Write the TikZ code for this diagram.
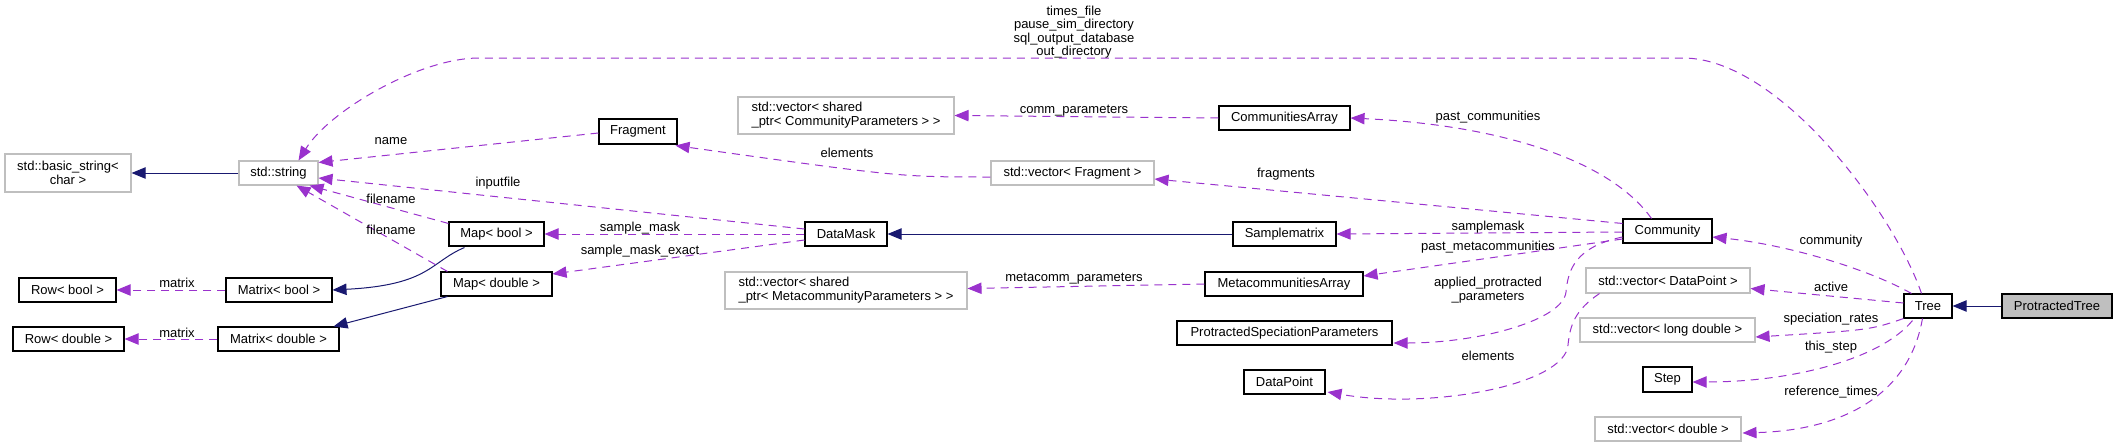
\documentclass[tikz,border=0pt]{standalone}
\usepackage{fontspec}
\setmainfont{Liberation Sans}
\usetikzlibrary{arrows.meta,calc}
\definecolor{usecol}{HTML}{9A32CD}
\definecolor{inhcol}{HTML}{191970}
\definecolor{extcol}{HTML}{BFBFBF}
\newcommand\lblfont{\fontsize{9.75}{10.3}\selectfont}
\newcommand\bx[6]{\node[#1, minimum width=#4*0.75pt, minimum height=#5*0.75pt] (#2) at (#3) {#6};}
\begin{document}
\begin{tikzpicture}[x=0.75pt,y=-0.75pt,
  cls/.style={draw=black, line width=0.8pt, fill=white, inner sep=0pt, font=\lblfont},
  extcls/.style={draw=extcol, line width=0.8pt, fill=white, inner sep=0pt, font=\lblfont},
  usage/.style={draw=usecol, line width=0.75pt, dash pattern=on 6pt off 4.5pt, -{Triangle[length=10.5pt,width=8.5pt]}},
  inh/.style={draw=inhcol, line width=0.75pt, -{Triangle[length=10.5pt,width=8.5pt]}},
  lab/.style={font=\lblfont, inner sep=0pt, align=center}]
\useasboundingbox (0,0) rectangle (2117,447);

% nodes
\bx{extcls,align=center}{bstr}{68,173}{126}{38}{std::basic\_string<\\char >}
\bx{extcls}{str}{278.5,173}{79}{24}{std::string}
\bx{cls}{rowb}{67.5,290}{97}{24}{Row< bool >}
\bx{cls}{matb}{279,290}{106}{24}{Matrix< bool >}
\bx{cls}{rowd}{68.5,339}{111}{24}{Row< double >}
\bx{cls}{matd}{278.5,339}{121}{24}{Matrix< double >}
\bx{cls}{frag}{638,131.5}{78}{25}{Fragment}
\bx{cls}{mapb}{496.5,234}{95}{24}{Map< bool >}
\bx{cls}{mapd}{496.5,284}{111}{24}{Map< double >}
\bx{cls}{dmask}{846,234}{82}{24}{DataMask}
\bx{extcls,align=left}{vcp}{846,115.5}{216}{37}{std::vector< shared\\\_ptr< CommunityParameters > >}
\bx{cls}{carr}{1284.5,118}{131}{24}{CommunitiesArray}
\bx{extcls}{vfrag}{1072.5,173}{163}{24}{std::vector< Fragment >}
\bx{cls}{smat}{1284.5,234}{103}{24}{Samplematrix}
\bx{extcls,align=left}{vmp}{846,290.5}{242}{37}{std::vector< shared\\\_ptr< MetacommunityParameters > >}
\bx{cls}{marr}{1284,284}{158}{24}{MetacommunitiesArray}
\bx{cls}{psp}{1284.5,333}{215}{24}{ProtractedSpeciationParameters}
\bx{cls}{dpt}{1284.5,382}{81}{24}{DataPoint}
\bx{cls}{comm}{1667.5,231}{89}{24}{Community}
\bx{extcls}{vdp}{1668,280.5}{164}{25}{std::vector< DataPoint >}
\bx{extcls}{vld}{1667.5,330}{175}{24}{std::vector< long double >}
\bx{cls}{stp}{1667.5,379.5}{49}{25}{Step}
\bx{extcls}{vd}{1668,429}{146}{24}{std::vector< double >}
\bx{cls}{tree}{1928,306}{48}{24}{Tree}
\bx{cls,fill=extcol}{ptree}{2057,306}{110}{24}{ProtractedTree}

% inheritance
\draw[inh] (str.west) -- (bstr.east);
\draw[inh] ($(mapb.south west)+(16,1)$) .. controls (430,262) and (430,285) .. (matb.east);
\draw[inh] ($(mapd.south west)+(7,0)$) -- ($(matd.north east)+(-6,0)$);
\draw[inh] (smat.west) -- (dmask.east);
\draw[inh] (ptree.west) -- (tree.east);

% usage
\coordinate (topR) at (1683,58);
\coordinate (topL) at (479,58);
\draw[usage] ($(tree.north west)+(18,0)$) .. controls (1895,215) and (1780,58) .. (topR) -- (topL) .. controls (420,58) and (330,110) .. ($(str.north)+(20,0)$);
\node[lab, font=\fontsize{9.75}{10}\selectfont] (l0) at (1074,32) {times\_file\\pause\_sim\_directory\\sql\_output\_database\\out\_directory};

\draw[usage] ($(frag.west)+(0,1.5)$) -- ($(str.north east)+(0,2)$);
\node[lab] (l1) at (391,141) {name};
\draw[usage] ($(dmask.west)+(0,-5)$) -- ($(str.east)+(0,5)$);
\node[lab] (l2) at (498,183) {inputfile};
\draw[usage] ($(mapb.north west)+(0,2)$) -- ($(str.south east)+(-9,0)$);
\node[lab] (l3) at (391,199) {filename};
\draw[usage] ($(mapd.north west)+(7,0)$) -- ($(str.south)+(18,0)$);
\node[lab] (l4) at (391,230) {filename};
\draw[usage] (dmask.west) -- (mapb.east);
\node[lab] (l5) at (640,228) {sample\_mask};
\draw[usage] ($(dmask.west)+(0,6)$) -- ($(mapd.east)+(0,-10)$);
\node[lab] (l6) at (640,251) {sample\_mask\_exact};
\draw[usage] (matb.west) -- (rowb.east);
\node[lab] (l7) at (177,283) {matrix};
\draw[usage] (matd.west) -- (rowd.east);
\node[lab] (l8) at (177,333) {matrix};

\draw[usage] ($(vfrag.west)+(0,4)$) .. controls (900,177) .. ($(frag.south east)+(-2,1)$);
\node[lab] (l9) at (847,153) {elements};
\draw[usage] (carr.west) -- (vcp.east);
\node[lab] (l10) at (1074,111) {comm\_parameters};
\draw[usage] (marr.west) -- ($(vmp.east)+(0,-2)$);
\node[lab] (l11) at (1074,279) {metacomm\_parameters};

\draw[usage] ($(comm.north west)+(29,0)$) .. controls (1610,160) and (1500,125) .. (carr.east);
\node[lab] (l12) at (1488,117) {past\_communities};
\draw[usage] ($(comm.north west)+(0,5)$) -- ($(vfrag.east)+(0,6)$);
\node[lab] (l13) at (1286,174) {fragments};
\draw[usage] ($(comm.west)+(0,1)$) -- (smat.east);
\node[lab] (l14) at (1488,227) {samplemask};
\draw[usage] ($(comm.west)+(0,8)$) -- ($(marr.east)+(0,-8)$);
\node[lab] (l15) at (1488,247) {past\_metacommunities};
\draw[usage] ($(comm.west)+(0,6)$) .. controls (1575,247) and (1568,270) .. (1566,292) .. controls (1563,320) and (1480,343) .. ($(psp.east)+(1,10)$);
\node[lab] (l16) at (1488,290) {applied\_protracted\\\_parameters};
\draw[usage] ($(vdp.south west)+(14,0)$) .. controls (1575,310) and (1570,325) .. (1568,345) .. controls (1565,385) and (1430,410) .. ($(dpt.east)+(2,10)$);
\node[lab] (l17) at (1488,356) {elements};

\draw[usage] ($(tree.north west)+(8,0)$) .. controls (1870,270) and (1790,245) .. ($(comm.east)+(0,6)$);
\node[lab] (l18) at (1831,241) {community};
\draw[usage] ($(tree.west)+(0,-3)$) -- ($(vdp.east)+(0,8)$);
\node[lab] (l19) at (1831,287) {active};
\draw[usage] (tree.south west) .. controls (1870,330) .. ($(vld.east)+(0,7)$);
\node[lab] (l20) at (1831,319) {speciation\_rates};
\draw[usage] ($(tree.south west)+(9,2)$) .. controls (1880,360) and (1790,382) .. ($(stp.east)+(0,2.5)$);
\node[lab] (l21) at (1831,347) {this\_step};
\draw[usage] ($(tree.south west)+(19,0)$) .. controls (1910,390) and (1850,430) .. ($(vd.east)+(1,4)$);
\node[lab] (l22) at (1831,392) {reference\_times};
\end{tikzpicture}
\end{document}
